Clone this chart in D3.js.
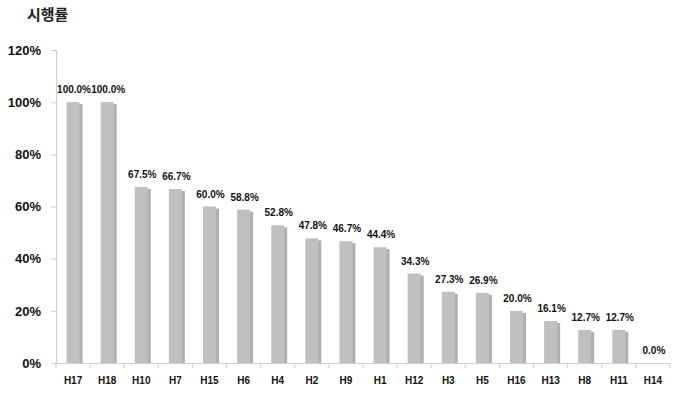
<!DOCTYPE html>
<html><head><meta charset="utf-8">
<script src="https://cdn.jsdelivr.net/npm/d3@7"></script>
<style>body{margin:0;background:#fff}</style>
</head><body><svg id="c" width="680" height="393"></svg>
<script>
const categories = ["H17","H18","H10","H7","H15","H6","H4","H2","H9","H1","H12","H3","H5","H16","H13","H8","H11","H14"];
const values = [100.0,100.0,67.5,66.7,60.0,58.8,52.8,47.8,46.7,44.4,34.3,27.3,26.9,20.0,16.1,12.7,12.7,0.0];
const yTicks = [0,20,40,60,80,100,120];
const title = "시행률";

const svg = d3.select("#c");
const m = {l:56, r:10, t:50, b:30};
const W = 680, H = 393;
const xb = d3.scaleBand().domain(categories).range([m.l, W - m.r]);
const y = d3.scaleLinear().domain([0,120]).range([H - m.b, m.t]);
const font = "'Liberation Sans', Arial, sans-serif";

svg.append("text").attr("x",27).attr("y",20).text(title)
  .attr("font-family","'Noto Sans CJK KR', sans-serif").attr("font-weight","bold").attr("font-size",15).attr("fill","#222");

// axes
const gy = svg.append("g").attr("transform",`translate(${m.l},0)`)
  .call(d3.axisLeft(y).tickValues(yTicks).tickFormat(d=>d+"%").tickSize(5).tickPadding(10));
gy.select(".domain").attr("stroke","#d0d0d0");
gy.selectAll(".tick line").attr("stroke","#d0d0d0");
gy.selectAll("text").attr("font-family",font).attr("font-weight","bold").attr("font-size",13).attr("fill","#111");

const gx = svg.append("g").attr("transform",`translate(0,${y(0)})`)
  .call(d3.axisBottom(xb).tickSize(0).tickPadding(14));
gx.select(".domain").attr("stroke","#d0d0d0");
gx.selectAll("text").attr("font-family",font).attr("font-weight","bold").attr("font-size",10).attr("fill","#111");
svg.append("g").selectAll("line").data(d3.range(categories.length + 1)).join("line")
  .attr("x1",i=>m.l + i*xb.bandwidth()).attr("x2",i=>m.l + i*xb.bandwidth())
  .attr("y1",y(0)).attr("y2",y(0)+5).attr("stroke","#d0d0d0");

// bars with shadow
const bw = 13;
const g = svg.append("g");
g.selectAll("rect.s").data(values).join("rect").attr("class","s")
  .attr("x",(d,i)=>xb(categories[i]) + xb.bandwidth()/2 - bw/2 + 3)
  .attr("y",d=>y(d)+2).attr("width",bw).attr("height",d=>Math.max(0,y(0)-y(d)-2))
  .attr("fill","#b0b0b0");
g.selectAll("rect.b").data(values).join("rect").attr("class","b")
  .attr("x",(d,i)=>xb(categories[i]) + xb.bandwidth()/2 - bw/2)
  .attr("y",d=>y(d)).attr("width",bw).attr("height",d=>y(0)-y(d))
  .attr("fill","#c0c0c0");

g.selectAll("text").data(values).join("text")
  .attr("x",(d,i)=>xb(categories[i]) + xb.bandwidth()/2 + 1)
  .attr("y",d=>y(d)-9).attr("text-anchor","middle")
  .attr("font-family",font).attr("font-weight","bold").attr("font-size",10).attr("fill","#111")
  .text(d=>d.toFixed(1)+"%");
</script></body></html>
